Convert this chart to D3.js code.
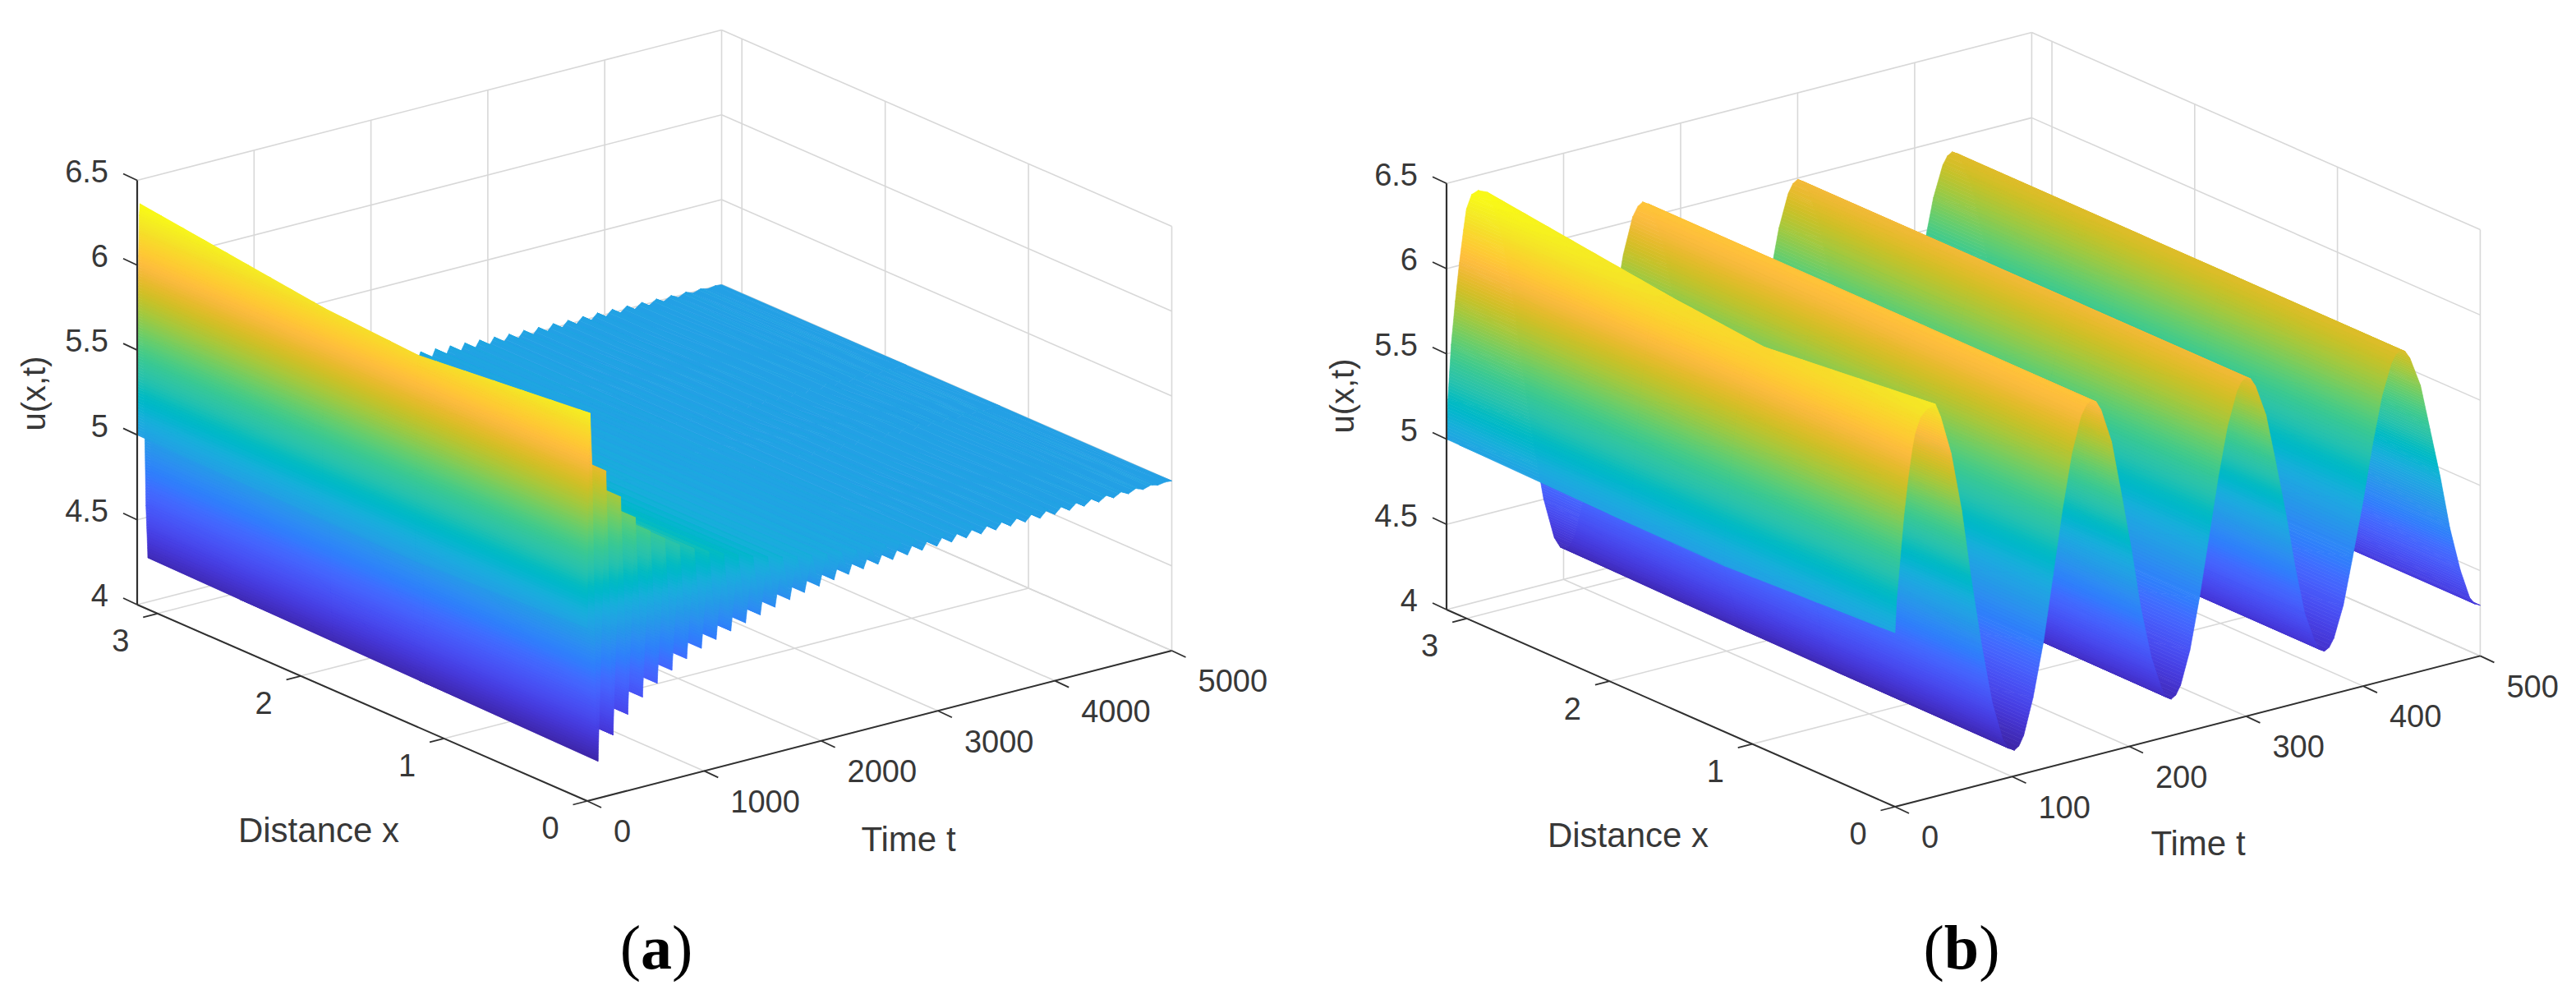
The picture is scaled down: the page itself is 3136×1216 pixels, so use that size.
<!DOCTYPE html>
<html>
<head>
<meta charset="utf-8">
<script src="https://cdnjs.cloudflare.com/ajax/libs/d3/7.8.5/d3.min.js"></script>
<style>
  body { margin: 0; background: #fff; }
  text { font-family: "Liberation Sans", Arial, sans-serif; fill: #383838; }
</style>
</head>
<body>
<svg id="chart" width="3136" height="1216"></svg>
<script>
// tick labels
const xTicks = [0, 1, 2, 3];
const zTicks = [4, 4.5, 5, 5.5, 6, 6.5];
const tTicksA = [0, 1000, 2000, 3000, 4000, 5000];
const tTicksB = [0, 100, 200, 300, 400, 500];

// x positions of the surface columns (kinks of the first crest sit at 1.2 and 1.85)
const xNodes = [0, 1.2, 1.85, Math.PI];

// panel (a): times of the surface rows, u at x=0
const tA = [0, 6, 12, 18, 24, 40, 58, 75, 92,
  159, 220, 285, 346, 411, 472, 537, 598, 663, 724, 789, 850, 915, 976, 1041, 1102, 1167, 1228,
  1291, 1354, 1417, 1480, 1543, 1606, 1669, 1732, 1795, 1858, 1921, 1984, 2047, 2110, 2173, 2236,
  2299, 2362, 2425, 2488, 2551, 2614, 2677, 2740, 2803, 2866, 2929, 2992, 3055, 3118, 3181, 3244,
  3307, 3370, 3433, 3496, 3559, 3622, 3685, 3748, 3811, 3874, 3937, 4000, 4063, 4126, 4189, 4252,
  4315, 4378, 4441, 4504, 4567, 4630, 4693, 4756, 4819, 4882, 4945, 5000];
const uA0 = [5.02, 5.55, 5.98, 6.2, 6.28, 5.97, 5.25, 4.53, 4.218,
  5.916, 4.351, 5.741, 4.45, 5.597, 4.529, 5.495, 4.588, 5.43, 4.642, 5.37, 4.688, 5.325, 4.727,
  5.285, 4.757, 5.25, 4.785,
  5.22, 4.81, 5.19, 4.835, 5.165, 4.858, 5.14, 4.88, 5.12, 4.9, 5.105, 4.915, 5.09, 4.93, 5.08, 4.94,
  5.07, 4.95, 5.06, 4.955, 5.055, 4.96, 5.05, 4.965, 5.045, 4.97, 5.04, 4.972, 5.035, 4.974, 5.03, 4.976,
  5.03, 4.977, 5.025, 4.978, 5.025, 4.979, 5.022, 4.98, 5.022, 4.98, 5.021, 4.98, 5.02, 4.982, 5.018, 4.984,
  5.016, 4.986, 5.014, 4.988, 5.012, 4.99, 5.01, 4.993, 5.007, 4.996, 5.003, 5.0];
// first rows at x=pi, later rows are the same as x=0
const uAPi = [5.0, 5.55, 6.05, 6.29, 6.357, 6.05, 5.3, 4.57, 4.26];
// dent of the first crest at the two inner columns
const dipA12 = [-0.04, -0.05, -0.09, -0.12, -0.13, -0.11, -0.07, -0.03, 0];
const dipA18 = [-0.03, -0.04, -0.07, -0.09, -0.11, -0.09, -0.06, -0.02, 0];

// panel (b): times of the surface rows, u at x=0 and x=pi
const tB = [0, 1.2, 4, 7.5, 11, 14.5, 17, 21.5, 27, 34.5, 39, 48, 57, 65, 74, 83, 92, 97, 102, 106,
  110, 118, 127, 135, 143, 151, 159, 163.5, 167.5, 172,
  176, 185, 193, 202, 210, 219, 228, 232, 236, 240,
  244, 252, 260, 268, 276, 284, 292, 296, 300, 304,
  308, 317, 325, 334, 342, 350, 359, 363, 367, 371,
  375, 383, 391, 400, 408, 416, 424, 428, 432, 436,
  440, 449, 457, 466, 474, 483, 491, 495.5, 500];
const uB0 = [5.02, 5.2, 5.42, 5.69, 5.9, 6.07, 6.16, 6.245, 6.285, 6.3, 6.218, 5.986, 5.636, 5.226, 4.815, 4.465, 4.233, 4.172, 4.151, 4.17,
  4.225, 4.434, 4.749, 5.12, 5.489, 5.805, 6.014, 6.069, 6.088, 6.07,
  6.017, 5.814, 5.509, 5.151, 4.793, 4.488, 4.285, 4.232, 4.214, 4.231,
  4.281, 4.473, 4.762, 5.101, 5.44, 5.729, 5.921, 5.971, 5.988, 5.971,
  5.922, 5.736, 5.456, 5.126, 4.796, 4.515, 4.329, 4.28, 4.263, 4.279,
  4.326, 4.504, 4.773, 5.089, 5.404, 5.673, 5.851, 5.898, 5.914, 5.898,
  5.852, 5.676, 5.408, 5.105, 4.797, 4.533, 4.358, 4.313, 4.297];
const uBPi = [5.0, 5.23, 5.545, 5.795, 6.014, 6.2, 6.32, 6.397, 6.411, 6.388, 6.324, 6.083, 5.719, 5.292, 4.865, 4.501, 4.26, 4.196, 4.175, 4.193,
  4.248, 4.455, 4.768, 5.135, 5.501, 5.814, 6.021, 6.076, 6.094, 6.076,
  6.023, 5.822, 5.518, 5.162, 4.806, 4.502, 4.301, 4.248, 4.23, 4.247,
  4.297, 4.487, 4.774, 5.111, 5.448, 5.735, 5.925, 5.975, 5.992, 5.975,
  5.927, 5.741, 5.46, 5.131, 4.802, 4.521, 4.335, 4.287, 4.27, 4.286,
  4.333, 4.511, 4.78, 5.095, 5.41, 5.679, 5.857, 5.904, 5.92, 5.904,
  5.858, 5.683, 5.419, 5.11, 4.801, 4.537, 4.362, 4.316, 4.3];
const dipB12 = [-0.04, -0.045, -0.055, -0.08, -0.1, -0.12, -0.13, -0.14, -0.146, -0.14, -0.13, -0.12, -0.1, -0.08, -0.05, -0.02, -0.01, -0.005, 0];
const dipB18 = [-0.03, -0.035, -0.045, -0.06, -0.08, -0.09, -0.1, -0.11, -0.112, -0.105, -0.1, -0.09, -0.08, -0.06, -0.04, -0.02, -0.01, -0.005, 0];

// parula colormap
const parula = [[0.2422,0.1504,0.6603],[0.2504,0.1650,0.7076],[0.2578,0.1818,0.7511],[0.2647,0.1978,0.7952],
[0.2706,0.2147,0.8364],[0.2751,0.2342,0.8710],[0.2783,0.2559,0.8991],[0.2803,0.2782,0.9221],[0.2813,0.3006,0.9414],
[0.2810,0.3228,0.9579],[0.2795,0.3447,0.9717],[0.2760,0.3667,0.9829],[0.2699,0.3892,0.9906],[0.2602,0.4123,0.9952],
[0.2440,0.4358,0.9988],[0.2206,0.4603,0.9973],[0.1963,0.4847,0.9892],[0.1834,0.5074,0.9798],[0.1786,0.5289,0.9682],
[0.1764,0.5499,0.9520],[0.1687,0.5703,0.9359],[0.1540,0.5902,0.9218],[0.1460,0.6091,0.9079],[0.1380,0.6276,0.8973],
[0.1248,0.6459,0.8883],[0.1113,0.6635,0.8763],[0.0952,0.6798,0.8598],[0.0689,0.6948,0.8394],[0.0297,0.7082,0.8163],
[0.0036,0.7203,0.7917],[0.0067,0.7312,0.7660],[0.0433,0.7411,0.7394],[0.0964,0.7500,0.7120],[0.1408,0.7584,0.6842],
[0.1717,0.7670,0.6554],[0.1938,0.7758,0.6251],[0.2161,0.7843,0.5923],[0.2470,0.7918,0.5567],[0.2906,0.7973,0.5188],
[0.3406,0.8008,0.4789],[0.3909,0.8029,0.4354],[0.4456,0.8024,0.3909],[0.5044,0.7993,0.3480],[0.5616,0.7942,0.3045],
[0.6174,0.7876,0.2612],[0.6720,0.7793,0.2227],[0.7242,0.7698,0.1910],[0.7738,0.7598,0.1646],[0.8203,0.7498,0.1535],
[0.8634,0.7406,0.1596],[0.9035,0.7330,0.1774],[0.9393,0.7288,0.2100],[0.9728,0.7298,0.2394],[0.9956,0.7434,0.2371],
[0.9970,0.7659,0.2199],[0.9952,0.7893,0.2028],[0.9892,0.8136,0.1885],[0.9786,0.8386,0.1766],[0.9676,0.8639,0.1643],
[0.9610,0.8890,0.1537],[0.9597,0.9135,0.1423],[0.9628,0.9373,0.1265],[0.9691,0.9606,0.1064],[0.9769,0.9839,0.0805]];

const gridColor = '#d8d8d8';
const axisColor = '#303030';
const nBands = 128;

const svg = d3.select('#chart');

// grid of u for one panel: rows over t, columns over xNodes
function gridA() {
  return tA.map(function(t, j) {
    const u0 = uA0[j];
    const uPi = j < uAPi.length ? uAPi[j] : u0;
    return xNodes.map(function(x, i) {
      if (i === 0) return u0;
      if (i === 3) return uPi;
      const dip = i === 1 ? (dipA12[j] || 0) : (dipA18[j] || 0);
      return d3.scaleLinear([0, Math.PI], [u0, uPi])(x) + dip;
    });
  });
}
function gridB() {
  return tB.map(function(t, j) {
    return xNodes.map(function(x, i) {
      if (i === 0) return uB0[j];
      if (i === 3) return uBPi[j];
      const dip = i === 1 ? (dipB12[j] || 0) : (dipB18[j] || 0);
      return d3.scaleLinear([0, Math.PI], [uB0[j], uBPi[j]])(x) + dip;
    });
  });
}

// cut a triangle [[sx, sy, z], ...] into polygons, one for each colour band
function bandPolys(tri, levels) {
  const out = [];
  const lo = d3.min(tri, d => d[2]);
  const hi = d3.max(tri, d => d[2]);
  for (let b = 0; b < levels.length - 1; b++) {
    if (levels[b + 1] < lo || levels[b] > hi) continue;
    let poly = clipZ(tri, levels[b], 1);
    poly = clipZ(poly, levels[b + 1], -1);
    if (poly.length >= 3) out.push({ poly: poly, band: b });
  }
  return out;
}

function clipZ(poly, level, sign) {
  const res = [];
  for (let i = 0; i < poly.length; i++) {
    const a = poly[i], c = poly[(i + 1) % poly.length];
    const ina = sign * (a[2] - level) >= 0;
    const inc = sign * (c[2] - level) >= 0;
    if (ina) res.push(a);
    if (ina !== inc) {
      const f = (level - a[2]) / (c[2] - a[2]);
      res.push([a[0] + f * (c[0] - a[0]), a[1] + f * (c[1] - a[1]), level]);
    }
  }
  return res;
}

function drawPanel(cfg) {
  const g = svg.append('g');
  const tMax = cfg.tTicks[cfg.tTicks.length - 1];

  // oblique projection: each data axis moves the screen point along its own direction
  const xDx = d3.scaleLinear([0, Math.PI], [0, cfg.xVec[0]]);
  const xDy = d3.scaleLinear([0, Math.PI], [0, cfg.xVec[1]]);
  const tDx = d3.scaleLinear([0, tMax], [0, cfg.tVec[0]]);
  const tDy = d3.scaleLinear([0, tMax], [0, cfg.tVec[1]]);
  const zDy = d3.scaleLinear([4, 6.5], [0, -cfg.zLen]);
  function proj(x, t, z) {
    return [cfg.origin[0] + xDx(x) + tDx(t), cfg.origin[1] + xDy(x) + tDy(t) + zDy(z)];
  }
  function line(sel, a, b, color, width) {
    sel.append('line').attr('x1', a[0]).attr('y1', a[1]).attr('x2', b[0]).attr('y2', b[1])
      .attr('stroke', color).attr('stroke-width', width);
  }

  /* grid lines on the floor and the two back walls */
  const grid = g.append('g');
  zTicks.forEach(function(z) {
    line(grid, proj(Math.PI, 0, z), proj(Math.PI, tMax, z), gridColor, 1.6);
    line(grid, proj(Math.PI, tMax, z), proj(0, tMax, z), gridColor, 1.6);
  });
  cfg.tTicks.forEach(function(t) {
    line(grid, proj(0, t, 4), proj(Math.PI, t, 4), gridColor, 1.6);
    line(grid, proj(Math.PI, t, 4), proj(Math.PI, t, 6.5), gridColor, 1.6);
  });
  xTicks.forEach(function(x) {
    line(grid, proj(x, 0, 4), proj(x, tMax, 4), gridColor, 1.6);
    line(grid, proj(x, tMax, 4), proj(x, tMax, 6.5), gridColor, 1.6);
  });

  /* the surface, far rows first so near rows paint over them */
  const U = cfg.grid;
  const cScale = d3.scaleLinear().domain(d3.range(64).map(i => i / 63))
    .range(parula.map(c => d3.rgb(c[0] * 255, c[1] * 255, c[2] * 255)));
  const levels = d3.range(nBands + 1).map(i => cfg.clim[0] + (cfg.clim[1] - cfg.clim[0]) * i / nBands);
  levels[0] = -Infinity;
  levels[nBands] = Infinity;
  const polys = [];
  for (let j = cfg.tNodes.length - 2; j >= 0; j--) {
    for (let i = xNodes.length - 2; i >= 0; i--) {
      const corner = function(ii, jj) {
        const p = proj(xNodes[ii], cfg.tNodes[jj], U[jj][ii]);
        return [p[0], p[1], U[jj][ii]];
      };
      const a = corner(i, j), b = corner(i + 1, j), c = corner(i + 1, j + 1), d = corner(i, j + 1);
      [[b, c, d], [a, b, d]].forEach(function(tri) {
        bandPolys(tri, levels).forEach(p => polys.push(p));
      });
    }
  }
  g.append('g').selectAll('path')
    .data(polys)
    .join('path')
    .attr('d', p => 'M' + p.poly.map(q => q[0].toFixed(2) + ',' + q[1].toFixed(2)).join('L') + 'Z')
    .attr('fill', p => cScale((p.band + 0.5) / nBands))
    .attr('stroke', p => cScale((p.band + 0.5) / nBands))
    .attr('stroke-width', 0.6)
    .attr('stroke-linejoin', 'round');

  /* axis lines and ticks */
  const axes = g.append('g');
  line(axes, proj(Math.PI, 0, 4), proj(Math.PI, 0, 6.5), axisColor, 2.2);
  line(axes, proj(Math.PI, 0, 4), proj(0, 0, 4), axisColor, 2);
  line(axes, proj(0, 0, 4), proj(0, tMax, 4), axisColor, 2);
  zTicks.forEach(function(z) {
    const p = proj(Math.PI, 0, z);
    line(axes, p, [p[0] - 17, p[1] - 8], axisColor, 1.8);
    g.append('text').attr('x', p[0] - 35).attr('y', p[1] - cfg.zLabelDy)
      .attr('text-anchor', 'end').attr('dy', '0.35em')
      .attr('font-size', 38).text(z);
  });
  xTicks.forEach(function(x) {
    const p = proj(x, 0, 4);
    line(axes, p, [p[0] - 17.5, p[1] + 4.5], axisColor, 1.8);
    g.append('text').attr('x', p[0] - 45).attr('y', p[1] + 33)
      .attr('text-anchor', 'middle').attr('dy', '0.35em')
      .attr('font-size', 38).text(x);
  });
  cfg.tTicks.forEach(function(t) {
    const p = proj(0, t, 4);
    line(axes, p, [p[0] + 17, p[1] + 8], axisColor, 1.8);
    g.append('text').attr('x', p[0] + 32).attr('y', p[1] + 37)
      .attr('dy', '0.35em')
      .attr('font-size', 38).text(t);
  });

  /* axis titles and the caption */
  g.append('text').attr('x', cfg.xLabel[0]).attr('y', cfg.xLabel[1])
    .attr('text-anchor', 'middle').attr('dy', '0.35em')
    .attr('font-size', 42).text('Distance x');
  g.append('text').attr('x', cfg.tLabel[0]).attr('y', cfg.tLabel[1])
    .attr('text-anchor', 'middle').attr('dy', '0.35em')
    .attr('font-size', 42).text('Time t');
  g.append('text').attr('transform', 'translate(' + cfg.zLabel[0] + ',' + cfg.zLabel[1] + ') rotate(-90)')
    .attr('text-anchor', 'middle').attr('dy', '0.35em')
    .attr('font-size', 40).text('u(x,t)');
  const cap = g.append('text').attr('x', cfg.caption[0]).attr('y', cfg.caption[1])
    .attr('text-anchor', 'middle')
    .style('font-family', '"Liberation Serif", serif').style('fill', '#000')
    .attr('font-size', 76);
  cap.append('tspan').text('(');
  cap.append('tspan').attr('font-weight', 'bold').text(cfg.letter);
  cap.append('tspan').text(')');
}

drawPanel({
  origin: [715, 975], xVec: [-548, -239], tVec: [711.5, -183], zLen: 516.5,
  tTicks: tTicksA, tNodes: tA, grid: gridA(), clim: [4.218, 6.357], zLabelDy: 11,
  xLabel: [388, 1010], tLabel: [1106, 1021], zLabel: [41, 479], caption: [799, 1179], letter: 'a'
});
drawPanel({
  origin: [2307, 982], xVec: [-546, -240], tVec: [712.4, -183.6], zLen: 518.8,
  tTicks: tTicksB, tNodes: tB, grid: gridB(), clim: [4.151, 6.411], zLabelDy: 11,
  xLabel: [1982, 1016], tLabel: [2676, 1026], zLabel: [1634, 482], caption: [2388, 1179], letter: 'b'
});
</script>
</body>
</html>
